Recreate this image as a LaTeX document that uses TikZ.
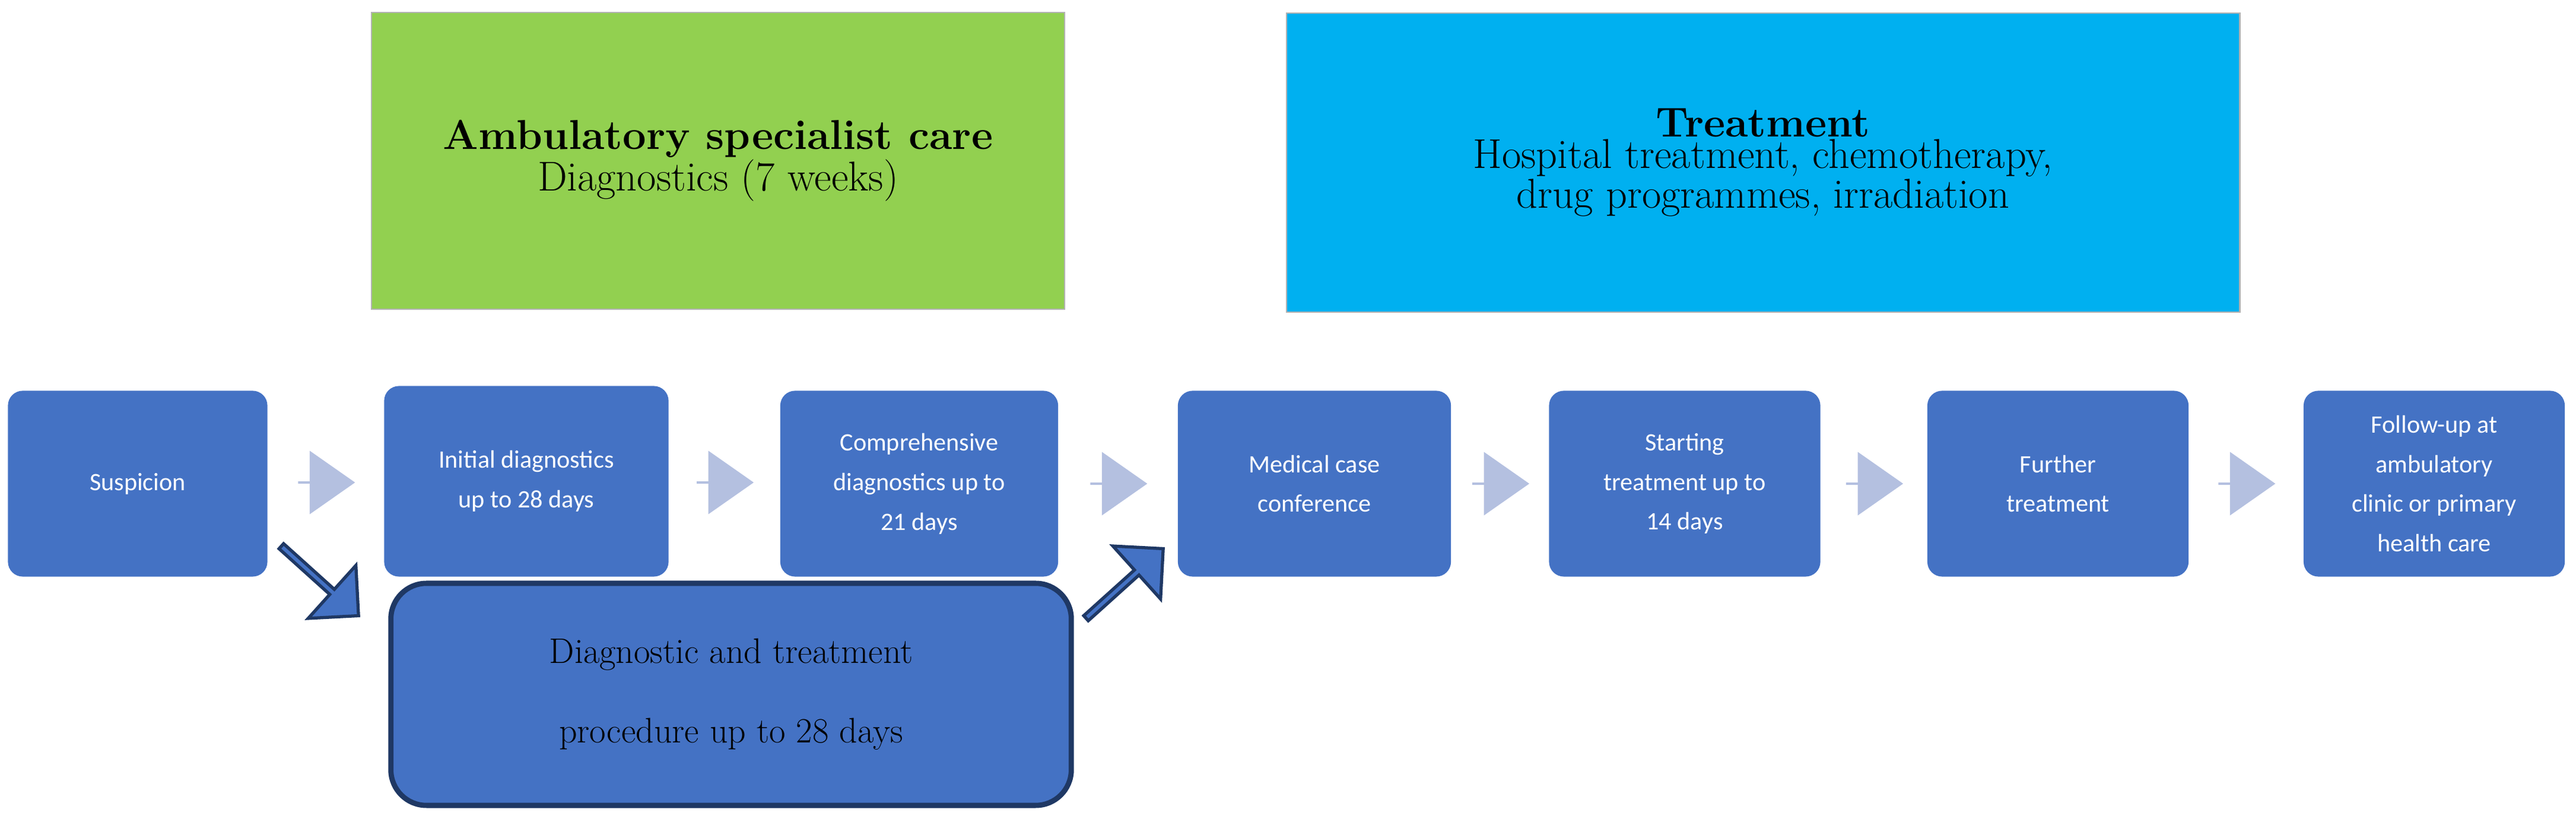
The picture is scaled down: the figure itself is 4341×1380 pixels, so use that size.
\documentclass[tikz,border=0pt]{standalone}
\usepackage{fontspec}
\newfontfamily\carlitofont{Carlito}
\usetikzlibrary{shapes.arrows,calc}
\definecolor{boxblue}{HTML}{4472C4}
\definecolor{lightarr}{HTML}{B4C0E0}
\definecolor{darkb}{HTML}{1F3864}
\definecolor{hgreen}{HTML}{92D050}
\definecolor{hblue}{HTML}{00B0F0}
\begin{document}
\begin{tikzpicture}[x=0.01cm,y=-0.01cm,
  stepbox/.style={draw=none,fill=boxblue,rounded corners=0.25cm,text=white,align=center,
    font=\carlitofont\fontsize{12}{19}\selectfont,inner sep=0pt},
  headbox/.style={draw=black!30,line width=0.6pt,align=center,inner sep=0pt},
  lightarrow/.style={single arrow,fill=lightarr,draw=none,minimum height=0.96cm,
    single arrow head extend=0.2cm,minimum width=1.07cm,inner sep=0pt,single arrow tip angle=70},
  diagarrow/.style={single arrow,fill=boxblue,draw=darkb,line width=1.5pt,minimum height=1.75cm,
    minimum width=1.2cm,single arrow head extend=0.25cm,inner sep=0pt}]
\useasboundingbox (0,0) rectangle (4341,1380);
% headers
\node[headbox,fill=hgreen,minimum width=11.68cm,minimum height=4.99cm] (amb) at (1210,271)
  {\fontsize{20}{40}\selectfont\textbf{Ambulatory specialist care}\\ \fontsize{20}{40}\selectfont Diagnostics (7 weeks)};
\node[headbox,fill=hblue,minimum width=16.06cm,minimum height=5.04cm] (trt) at (2971,274)
  {\fontsize{20}{40}\selectfont\textbf{Treatment}\\ \fontsize{20}{40}\selectfont Hospital treatment, chemotherapy,\\ \fontsize{20}{40}\selectfont drug programmes, irradiation};
% steps
\node[stepbox,minimum width=4.37cm,minimum height=3.13cm] (s1) at (232,815) {Suspicion};
\node[stepbox,minimum width=4.79cm,minimum height=3.21cm] (s2) at (887,811) {Initial diagnostics\\up to 28 days};
\node[stepbox,minimum width=4.68cm,minimum height=3.13cm] (s3) at (1549,815) {Comprehensive\\diagnostics up to\\21 days};
\node[stepbox,minimum width=4.60cm,minimum height=3.13cm] (s4) at (2215,815) {Medical case\\conference};
\node[stepbox,minimum width=4.57cm,minimum height=3.13cm] (s5) at (2839,815) {Starting\\treatment up to\\14 days};
\node[stepbox,minimum width=4.40cm,minimum height=3.13cm] (s6) at (3468,815) {Further\\treatment};
\node[stepbox,minimum width=4.40cm,minimum height=3.13cm] (s7) at (4102,815) {Follow-up at\\ambulatory\\clinic or primary\\health care};
\node[draw=darkb,line width=2.5pt,fill=boxblue,rounded corners=0.6cm,minimum width=11.46cm,
  minimum height=3.74cm,align=center,font=\fontsize{17}{38}\selectfont] (p) at (1232,1170)
  {Diagnostic and treatment\\procedure up to 28 days};
% light arrows
\foreach \a/\b in {s1/s2,s2/s3,s3/s4,s4/s5,s5/s6,s6/s7}
  \node[lightarrow] (arr-\a) at ($(\a.east)!0.5!(\b.west)$) {};
% diagonal arrows
\node[diagarrow,rotate=-42] (d1) at (537,977) {};
\node[diagarrow,rotate=42] (d2) at (1893,985) {};
\end{tikzpicture}
\end{document}
